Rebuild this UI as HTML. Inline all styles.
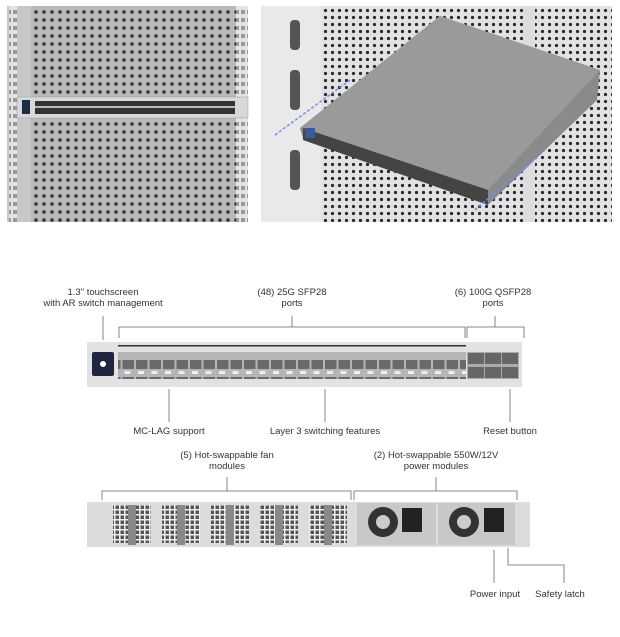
<!DOCTYPE html>
<html><head><style>
body{margin:0;width:620px;height:637px;background:#fff;font-family:"Liberation Sans",sans-serif;overflow:hidden;position:relative}
.t{position:absolute;font-size:9.5px;color:#333;text-align:center;line-height:11px;transform:translateX(-50%);white-space:nowrap}
</style></head><body>
<svg width="620" height="637" style="position:absolute;left:0;top:0">
<defs>
<pattern id="d1" width="8" height="8" patternUnits="userSpaceOnUse"><rect width="8" height="8" fill="#b9b9b9"/><circle cx="4" cy="4" r="1.8" fill="#333"/></pattern>
<pattern id="d2" width="7" height="7" patternUnits="userSpaceOnUse"><rect width="7" height="7" fill="#e2e2e2"/><circle cx="3.5" cy="3.5" r="1.6" fill="#2a2a2a"/></pattern>
<pattern id="rl" width="6" height="8" patternUnits="userSpaceOnUse"><rect width="6" height="8" fill="#e4e4e4"/><rect x="1" y="2" width="4" height="4" fill="#999"/></pattern>
<pattern id="sfp" width="13.5" height="40" patternUnits="userSpaceOnUse"><rect width="13.5" height="40" fill="#b5b5b5"/><rect x="1" y="0" width="11.5" height="9" fill="#6a6a6a"/><rect x="1" y="17" width="11.5" height="9" fill="#6a6a6a"/><rect x="3" y="11" width="6" height="3" fill="#eee"/></pattern>
<pattern id="fan" width="5" height="5" patternUnits="userSpaceOnUse"><rect width="5" height="5" fill="#eee"/><rect x="0.5" y="0.5" width="3.5" height="3.5" fill="#555"/></pattern>
</defs>
<rect x="7" y="6" width="241" height="216" fill="url(#d1)"/>
<rect x="7" y="6" width="24" height="216" fill="#c8c8c8"/>
<rect x="9" y="6" width="8" height="216" fill="url(#rl)"/>
<rect x="236" y="6" width="12" height="216" fill="url(#rl)"/>
<rect x="17" y="97" width="231" height="21" fill="#d8d8d8" stroke="#999" stroke-width="0.5"/>
<rect x="22" y="100" width="8" height="14" fill="#1d2a4a"/>
<rect x="35" y="101" width="200" height="13" fill="#333"/>
<rect x="35" y="106" width="200" height="2" fill="#bbb"/>
<rect x="261" y="6" width="351" height="216" fill="url(#d2)"/>
<rect x="261" y="6" width="60" height="216" fill="#e9e9e9"/>
<rect x="290" y="20" width="10" height="30" rx="4" fill="#555"/>
<rect x="290" y="70" width="10" height="40" rx="4" fill="#555"/>
<rect x="290" y="150" width="10" height="40" rx="4" fill="#555"/>
<rect x="523" y="6" width="12" height="216" fill="#ddd"/>
<polygon points="300,128 440,16 600,70 597,100 488,205 303,138" fill="#8a8a8a"/>
<polygon points="300,128 440,16 600,70 488,190" fill="#9a9a9a"/>
<polygon points="303,128 488,190 488,205 303,140" fill="#444"/>
<rect x="305" y="128" width="10" height="10" fill="#3a5aa0"/>
<line x1="275" y1="135" x2="350" y2="80" stroke="#6b8cff" stroke-width="1.5" stroke-dasharray="3,2"/>
<line x1="475" y1="210" x2="545" y2="150" stroke="#6b8cff" stroke-width="1.5" stroke-dasharray="3,2"/>
<g stroke="#666" stroke-width="0.8" fill="none">
<line x1="103" y1="316" x2="103" y2="340"/>
<polyline points="119,338 119,327 465,327 465,338"/>
<line x1="292" y1="316" x2="292" y2="327"/>
<polyline points="467,338 467,327 524,327 524,338"/>
<line x1="495" y1="316" x2="495" y2="327"/>
<line x1="169" y1="389" x2="169" y2="422"/>
<line x1="325" y1="389" x2="325" y2="422"/>
<line x1="510" y1="389" x2="510" y2="422"/>
</g>
<rect x="87" y="342" width="435" height="45" fill="#e2e2e2"/>
<rect x="92" y="352" width="22" height="24" rx="2" fill="#1e2640"/>
<circle cx="103" cy="364" r="3" fill="#fff"/>
<rect x="118" y="345" width="348" height="1.5" fill="#333"/>
<rect x="118" y="352" width="348" height="27" fill="url(#sfp)"/>
<rect x="467" y="352" width="52" height="27" fill="#aaa"/>
<rect x="468" y="353" width="16" height="11" fill="#666"/><rect x="485" y="353" width="16" height="11" fill="#666"/><rect x="502" y="353" width="16" height="11" fill="#666"/>
<rect x="468" y="367" width="16" height="11" fill="#666"/><rect x="485" y="367" width="16" height="11" fill="#666"/><rect x="502" y="367" width="16" height="11" fill="#666"/>
<g stroke="#666" stroke-width="0.8" fill="none">
<polyline points="102,500 102,491 351,491 351,500"/>
<line x1="227" y1="477" x2="227" y2="491"/>
<polyline points="354,500 354,491 517,491 517,500"/>
<line x1="436" y1="477" x2="436" y2="491"/>
<line x1="494" y1="550" x2="494" y2="583"/>
<polyline points="508,548 508,565 564,565 564,583"/>
</g>
<rect x="87" y="502" width="443" height="45" fill="#dcdcdc"/>
<g fill="url(#fan)">
<rect x="113" y="505" width="38" height="38"/><rect x="162" y="505" width="38" height="38"/><rect x="211" y="505" width="38" height="38"/><rect x="260" y="505" width="38" height="38"/><rect x="309" y="505" width="38" height="38"/>
</g>
<g fill="#888"><rect x="128" y="505" width="8" height="40"/><rect x="177" y="505" width="8" height="40"/><rect x="226" y="505" width="8" height="40"/><rect x="275" y="505" width="8" height="40"/><rect x="324" y="505" width="8" height="40"/></g>
<rect x="357" y="503" width="79" height="42" fill="#c8c8c8"/>
<rect x="438" y="503" width="77" height="42" fill="#c8c8c8"/>
<circle cx="383" cy="522" r="15" fill="#333"/><circle cx="383" cy="522" r="7" fill="#ccc"/>
<circle cx="464" cy="522" r="15" fill="#333"/><circle cx="464" cy="522" r="7" fill="#ccc"/>
<rect x="402" y="508" width="20" height="24" fill="#222"/>
<rect x="484" y="508" width="20" height="24" fill="#222"/>
</svg>
<div class="t" style="left:103px;top:287px">1.3" touchscreen<br>with AR switch management</div>
<div class="t" style="left:292px;top:287px">(48) 25G SFP28<br>ports</div>
<div class="t" style="left:493px;top:287px">(6) 100G QSFP28<br>ports</div>
<div class="t" style="left:169px;top:426px">MC-LAG support</div>
<div class="t" style="left:325px;top:426px">Layer 3 switching features</div>
<div class="t" style="left:510px;top:426px">Reset button</div>
<div class="t" style="left:227px;top:450px">(5) Hot-swappable fan<br>modules</div>
<div class="t" style="left:436px;top:450px">(2) Hot-swappable 550W/12V<br>power modules</div>
<div class="t" style="left:495px;top:589px">Power input</div>
<div class="t" style="left:560px;top:589px">Safety latch</div>
</body></html>
